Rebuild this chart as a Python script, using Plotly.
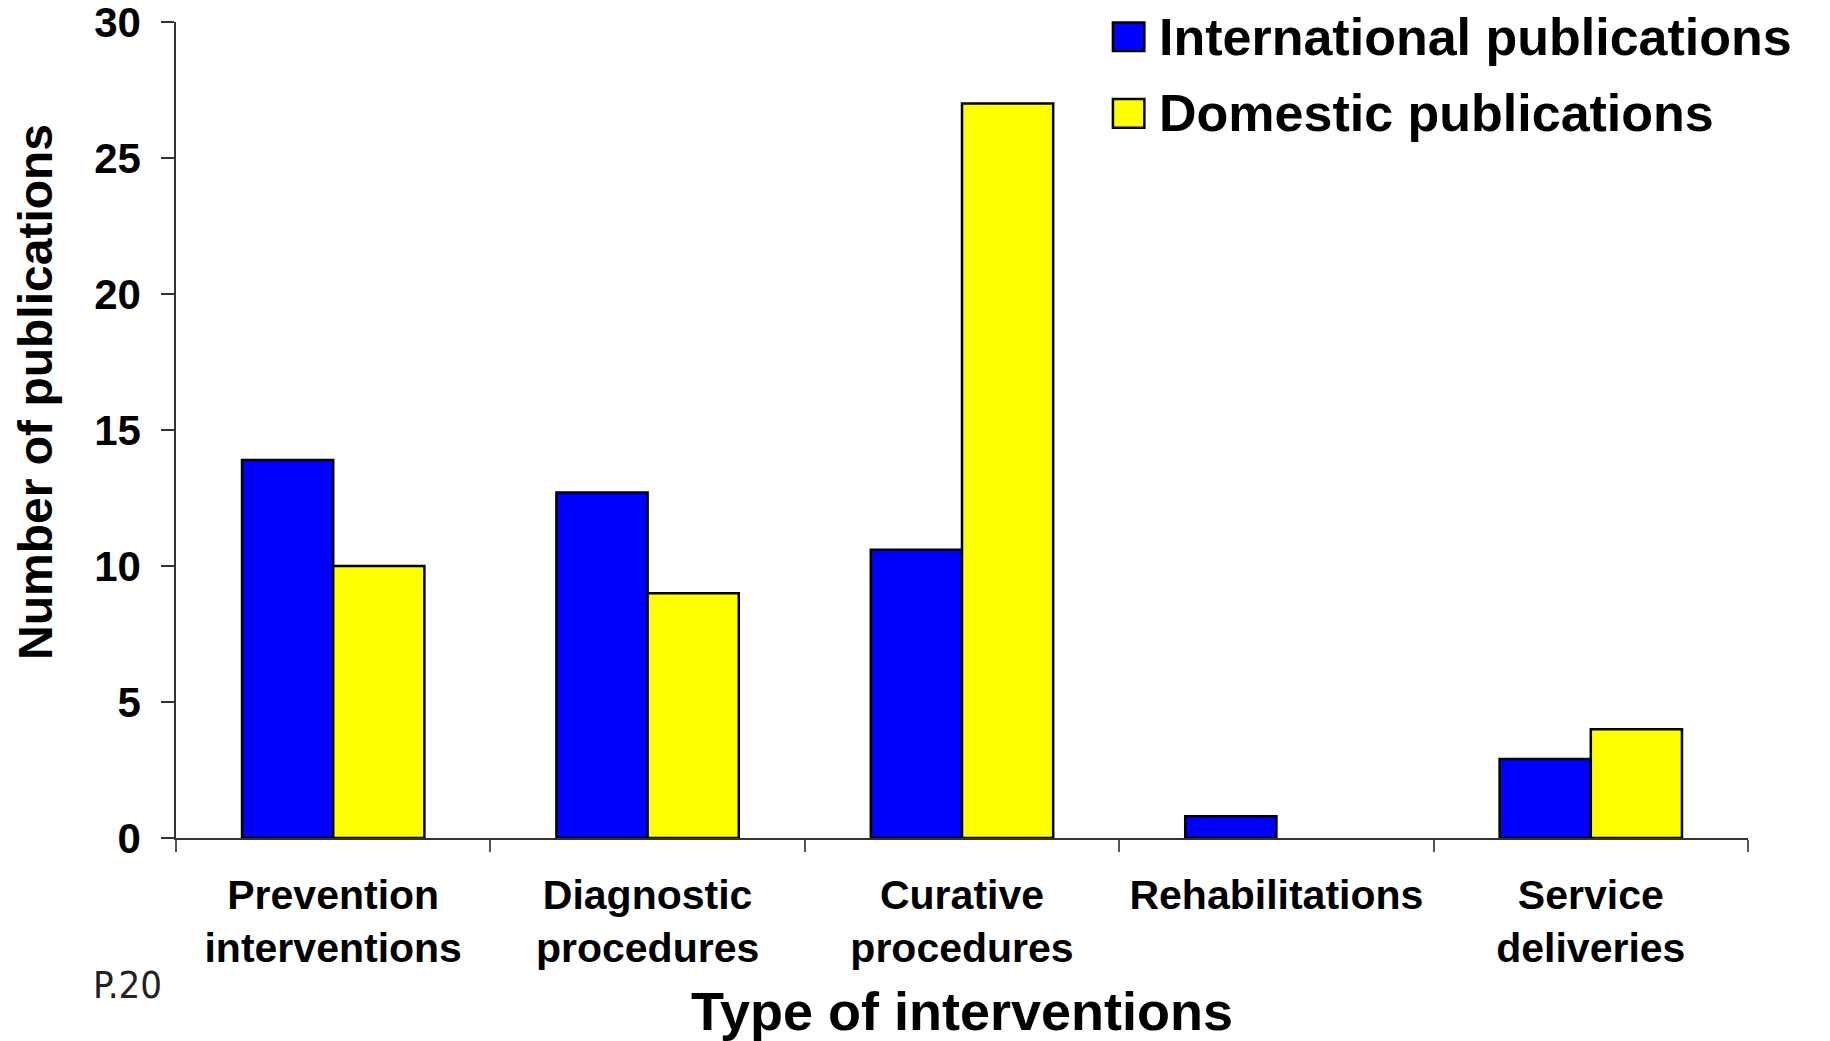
import plotly.graph_objects as go

categories = ["Prevention<br>interventions", "Diagnostic<br>procedures", "Curative<br>procedures",
              "Rehabilitations", "Service<br>deliveries"]
series_names = ["International publications", "Domestic publications"]
international = [13.9, 12.7, 10.6, 0.8, 2.9]
domestic = [10, 9, 27, 0, 4]
colors = ["#0000FF", "#FFFF00"]
y_ticks = [0, 5, 10, 15, 20, 25, 30]
x_title = "Type of interventions"
y_title = "Number of publications"

BOLD = "Liberation Sans, Arial, sans-serif"

fig = go.Figure()
for name, vals, col in zip(series_names, [international, domestic], colors):
    fig.add_trace(go.Bar(
        x=categories, y=vals, name=name,
        marker=dict(color=col,
                    line=dict(color="#000000", width=[2.5 if v else 0 for v in vals])),
        showlegend=False,
    ))

# manual legend (large square swatches like the original)
leg_y = [0.982, 0.888]
for name, col, yc in zip(series_names, colors, leg_y):
    fig.add_shape(type="rect", xref="paper", yref="paper",
                  x0=0.596, x1=0.616, y0=yc - 0.0175, y1=yc + 0.0175,
                  fillcolor=col, line=dict(color="#000000", width=2.5))
    fig.add_annotation(xref="paper", yref="paper", x=0.624, y=yc,
                       xanchor="left", yanchor="middle", showarrow=False,
                       text=name, font=dict(family=BOLD, size=52, color="#000000", weight="bold"))

# y-axis title (placed slightly above the plot's middle, as in the original)
fig.add_annotation(xref="paper", yref="paper", x=-0.0895, y=0.547,
                   xanchor="center", yanchor="middle", showarrow=False, textangle=-90,
                   text=y_title, font=dict(family=BOLD, size=48, color="#000000", weight="bold"))

fig.add_annotation(xref="paper", yref="paper", x=-0.054, y=-0.18,
                   xanchor="left", yanchor="middle", showarrow=False, text="P.20",
                   font=dict(family="Liberation Sans Narrow, DejaVu Sans Condensed, sans-serif",
                             size=38, color="#222222"))

# page body has an 8px default margin, so the figure is sized to fit the window
fig.update_layout(
    width=1822, height=1033,
    margin=dict(l=168, r=82, t=14, b=203),
    paper_bgcolor="white", plot_bgcolor="white",
    barmode="group", bargap=0.42, bargroupgap=0,
    font=dict(family=BOLD, color="#000000"),
)
fig.update_xaxes(
    automargin=False,
    showline=True, linecolor="#333333", linewidth=1.5,
    ticks="outside", tickson="boundaries", ticklen=12, tickcolor="#555555", tickwidth=1.5,
    tickfont=dict(family=BOLD, size=41, weight="bold"),
    ticklabelstandoff=20,
    ticklabeloverflow="allow",
    showgrid=False, zeroline=False,
    title=dict(text=x_title, font=dict(family=BOLD, size=54, weight="bold"), standoff=26),
)
fig.update_yaxes(
    automargin=False,
    range=[0, 30], tickvals=y_ticks,
    showline=True, linecolor="#333333", linewidth=1.5,
    ticks="outside", ticklen=13, tickcolor="#333333", tickwidth=1.5,
    tickfont=dict(family=BOLD, size=42, weight="bold"),
    ticklabelstandoff=12,
    ticklabeloverflow="allow",
    showgrid=False, zeroline=False,
)

fig.write_html("out.html")
